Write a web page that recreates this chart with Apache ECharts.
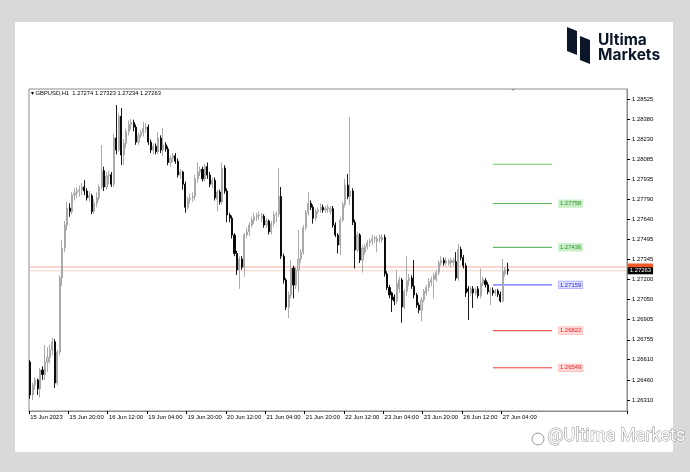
<!DOCTYPE html>
<html><head><meta charset="utf-8">
<script src="https://cdn.jsdelivr.net/npm/echarts@6/dist/echarts.min.js"></script>
<style>
html,body{margin:0;padding:0;background:#d9d9d9;width:690px;height:472px;overflow:hidden;}
#panel{position:absolute;left:15px;top:22px;width:658px;height:430px;background:#fff;}
#chart{position:absolute;left:0;top:0;width:690px;height:472px;}
</style></head><body>
<div id="panel"></div><div id="chart"></div>
<script>
const symbol = 'GBPUSD', period = 'H1';
const xTickLabels = ['15 Jun 2023','15 Jun 20:00','16 Jun 12:00','19 Jun 04:00','19 Jun 20:00','20 Jun 12:00','21 Jun 04:00','21 Jun 20:00','22 Jun 12:00','23 Jun 04:00','23 Jun 20:00','26 Jun 12:00','27 Jun 04:00'];
const barsPerTick = 16;
const yTicks = [1.28525,1.28380,1.28230,1.28085,1.27935,1.27790,1.27640,1.27495,1.27345,1.27200,1.27050,1.26905,1.26755,1.26610,1.26460,1.26310];
const open = [1.26592,1.26349,1.26422,1.26460,1.26394,1.26533,1.26500,1.26592,1.26625,1.26680,
1.26740,1.26437,1.26665,1.27210,1.27430,1.27600,1.27725,1.27700,1.27821,1.27835,
1.27850,1.27860,1.27880,1.27850,1.27800,1.27815,1.27700,1.27760,1.27800,1.27880,
1.28000,1.27880,1.27960,1.27970,1.27900,1.28240,1.28152,1.28400,1.28115,1.28200,
1.28290,1.28340,1.28355,1.28320,1.28210,1.28260,1.28280,1.28310,1.28320,1.28210,
1.28152,1.28180,1.28140,1.28240,1.28152,1.28190,1.28160,1.28060,1.28090,1.28110,
1.28070,1.27968,1.27990,1.27900,1.27730,1.27790,1.27800,1.27810,1.27940,1.27990,
1.28010,1.27940,1.28030,1.27968,1.27900,1.27930,1.27790,1.27843,1.27770,1.28020,
1.27850,1.27674,1.27650,1.27526,1.27390,1.27269,1.27350,1.27290,1.27526,1.27550,
1.27600,1.27637,1.27660,1.27670,1.27650,1.27665,1.27600,1.27630,1.27550,1.27610,
1.27674,1.27680,1.27810,1.27370,1.27195,1.26996,1.27085,1.27283,1.27158,1.27269,
1.27350,1.27400,1.27580,1.27690,1.27760,1.27730,1.27650,1.27700,1.27710,1.27730,
1.27710,1.27720,1.27700,1.27720,1.27600,1.27526,1.27453,1.27637,1.27750,1.27894,
1.27810,1.27850,1.27620,1.27416,1.27526,1.27342,1.27400,1.27440,1.27470,1.27480,
1.27500,1.27480,1.27500,1.27490,1.27510,1.27240,1.27140,1.27100,1.27070,1.27040,
1.27130,1.27195,1.26996,1.27110,1.27190,1.27210,1.27150,1.27085,1.27011,1.26974,
1.27048,1.27100,1.27140,1.27180,1.27200,1.27200,1.27250,1.27320,1.27340,1.27320,
1.27320,1.27320,1.27325,1.27330,1.27210,1.27420,1.27360,1.27300,1.27130,1.27100,
1.27130,1.27100,1.27130,1.27080,1.27170,1.27190,1.27160,1.27100,1.27120,1.27100,
1.27115,1.27090,1.27040,1.27240,1.27274];
const high = [1.26606,1.26440,1.26480,1.26470,1.26548,1.26560,1.26717,1.26700,1.26720,1.26770,
1.26760,1.26680,1.27230,1.27490,1.27630,1.27770,1.27760,1.27840,1.27870,1.27880,
1.27890,1.27910,1.27930,1.27870,1.27850,1.27830,1.27790,1.27840,1.27900,1.28189,
1.28030,1.27990,1.28000,1.27990,1.28270,1.28483,1.28420,1.28461,1.28230,1.28310,
1.28370,1.28380,1.28375,1.28340,1.28280,1.28300,1.28360,1.28350,1.28340,1.28230,
1.28200,1.28200,1.28284,1.28260,1.28314,1.28210,1.28180,1.28110,1.28130,1.28130,
1.28090,1.28010,1.28000,1.27920,1.27810,1.27830,1.27840,1.27970,1.28060,1.28030,
1.28030,1.28050,1.28060,1.27990,1.27950,1.27950,1.27860,1.27860,1.28060,1.28040,
1.27870,1.27690,1.27670,1.27540,1.27410,1.27370,1.27370,1.27540,1.27580,1.27620,
1.27660,1.27690,1.27690,1.27700,1.27690,1.27680,1.27650,1.27640,1.27630,1.27700,
1.27700,1.28020,1.27880,1.27390,1.27210,1.27110,1.27342,1.27300,1.27290,1.27563,
1.27420,1.27600,1.27710,1.27843,1.27780,1.27750,1.27720,1.27730,1.27760,1.27750,
1.27740,1.27750,1.27740,1.27740,1.27620,1.27540,1.27660,1.27770,1.27940,1.27975,
1.28395,1.27870,1.27640,1.27550,1.27540,1.27450,1.27460,1.27490,1.27500,1.27530,
1.27520,1.27520,1.27530,1.27530,1.27530,1.27260,1.27160,1.27110,1.27090,1.27269,
1.27220,1.27210,1.27130,1.27370,1.27240,1.27230,1.27342,1.27100,1.27030,1.27070,
1.27130,1.27160,1.27210,1.27220,1.27250,1.27270,1.27340,1.27370,1.27360,1.27360,
1.27350,1.27360,1.27360,1.27400,1.27460,1.27440,1.27380,1.27320,1.27150,1.27150,
1.27150,1.27140,1.27150,1.27280,1.27220,1.27210,1.27180,1.27140,1.27140,1.27130,
1.27130,1.27110,1.27350,1.27290,1.27323];
const low = [1.26320,1.26312,1.26386,1.26349,1.26330,1.26460,1.26459,1.26520,1.26580,1.26640,
1.26400,1.26420,1.26640,1.27150,1.27400,1.27560,1.27660,1.27680,1.27780,1.27800,
1.27810,1.27820,1.27820,1.27780,1.27770,1.27680,1.27680,1.27730,1.27780,1.27860,
1.27850,1.27860,1.27900,1.27880,1.27880,1.28120,1.28140,1.28042,1.28042,1.28170,
1.28260,1.28300,1.28290,1.28190,1.28190,1.28240,1.28250,1.28280,1.28190,1.28130,
1.28120,1.28120,1.28120,1.28130,1.28110,1.28140,1.28040,1.28030,1.28060,1.28050,
1.27950,1.27940,1.27860,1.27690,1.27710,1.27760,1.27770,1.27780,1.27910,1.27960,
1.27920,1.27920,1.27940,1.27880,1.27870,1.27780,1.27700,1.27750,1.27750,1.27830,
1.27620,1.27620,1.27500,1.27370,1.27232,1.27130,1.27270,1.27220,1.27500,1.27520,
1.27580,1.27610,1.27630,1.27640,1.27620,1.27580,1.27580,1.27530,1.27530,1.27590,
1.27620,1.27660,1.27350,1.27170,1.26974,1.26915,1.27060,1.27060,1.27130,1.27110,
1.27320,1.27380,1.27560,1.27670,1.27710,1.27610,1.27630,1.27680,1.27690,1.27690,
1.27690,1.27690,1.27680,1.27580,1.27510,1.27390,1.27379,1.27620,1.27730,1.27790,
1.27747,1.27600,1.27280,1.27400,1.27320,1.27250,1.27380,1.27420,1.27440,1.27450,
1.27470,1.27400,1.27470,1.27470,1.27220,1.27120,1.27060,1.26960,1.27010,1.27020,
1.27100,1.26880,1.26980,1.27080,1.27150,1.27130,1.27060,1.26990,1.26950,1.26890,
1.27030,1.27080,1.27110,1.27150,1.27060,1.27180,1.27230,1.27300,1.27300,1.27300,
1.27300,1.27290,1.27300,1.27190,1.27190,1.27340,1.27280,1.27070,1.26901,1.27080,
1.26990,1.27080,1.27060,1.27060,1.27150,1.27140,1.27090,1.27011,1.27080,1.27080,
1.27070,1.27030,1.27030,1.27220,1.27234];
const close = [1.26349,1.26422,1.26460,1.26394,1.26533,1.26500,1.26592,1.26625,1.26680,1.26740,
1.26437,1.26665,1.27210,1.27430,1.27600,1.27725,1.27700,1.27821,1.27835,1.27850,
1.27860,1.27880,1.27850,1.27800,1.27815,1.27700,1.27760,1.27800,1.27880,1.28000,
1.27880,1.27960,1.27970,1.27900,1.28240,1.28152,1.28400,1.28115,1.28200,1.28290,
1.28340,1.28355,1.28320,1.28210,1.28260,1.28280,1.28310,1.28320,1.28210,1.28152,
1.28180,1.28140,1.28240,1.28152,1.28190,1.28160,1.28060,1.28090,1.28110,1.28070,
1.27968,1.27990,1.27900,1.27730,1.27790,1.27800,1.27810,1.27940,1.27990,1.28010,
1.27940,1.28030,1.27968,1.27900,1.27930,1.27800,1.27843,1.27770,1.28020,1.27850,
1.27674,1.27650,1.27526,1.27390,1.27269,1.27350,1.27290,1.27526,1.27550,1.27600,
1.27637,1.27660,1.27670,1.27675,1.27665,1.27600,1.27630,1.27550,1.27610,1.27674,
1.27680,1.27810,1.27370,1.27195,1.26996,1.27085,1.27283,1.27158,1.27269,1.27350,
1.27400,1.27580,1.27690,1.27760,1.27730,1.27650,1.27700,1.27710,1.27730,1.27710,
1.27720,1.27730,1.27720,1.27600,1.27526,1.27453,1.27637,1.27750,1.27894,1.27810,
1.27850,1.27620,1.27416,1.27526,1.27342,1.27430,1.27440,1.27470,1.27480,1.27500,
1.27505,1.27500,1.27510,1.27510,1.27240,1.27140,1.27085,1.27050,1.27040,1.27170,
1.27195,1.26996,1.27110,1.27190,1.27210,1.27150,1.27085,1.27011,1.26974,1.27048,
1.27110,1.27140,1.27180,1.27200,1.27230,1.27250,1.27320,1.27340,1.27320,1.27335,
1.27335,1.27340,1.27340,1.27210,1.27420,1.27360,1.27300,1.27100,1.27110,1.27130,
1.27100,1.27120,1.27080,1.27170,1.27200,1.27160,1.27110,1.27120,1.27100,1.27115,
1.27090,1.27040,1.27260,1.27274,1.27263];
const levels = [1.28047,1.27758,1.27436,1.27159,1.26822,1.26549];
const levelLabels = ['','1.27758','1.27436','1.27159','1.26822','1.26549'];
const bidPrice = close[close.length-1];
const askPrice = 1.27291;

// ---- layout / style ----
const totalSlots = 243;
const lineFrom = 188, lineTo = 212;
const levelStyle = [
  {line:'#6ccc6c', bg:'#c6efc6', fg:'#2f8f2f', bd:'#c6efc6'},
  {line:'#55b855', bg:'#c6efc6', fg:'#2f8f2f', bd:'#c6efc6'},
  {line:'#46a646', bg:'#c6efc6', fg:'#2f8f2f', bd:'#c6efc6'},
  {line:'#4a4aff', bg:'#dedeff', fg:'#2a2ae8', bd:'#9c9cff'},
  {line:'#ea3030', bg:'#ffd8d8', fg:'#e02828', bd:'#ffb0b0'},
  {line:'#ea3a3a', bg:'#ffd8d8', fg:'#e02828', bd:'#ffb0b0'}
];
const cats = Array.from({length: totalSlots}, (_, i) => String(i));
const candleData = open.map((o, i) => [o, close[i], low[i], high[i]]);
const n = open.length;
const isTick = (i) => i % barsPerTick === 0 && i / barsPerTick < xTickLabels.length;
const font = 'Liberation Sans, Arial, sans-serif';
const fs = 5.9;

const hSeries = (p, color, from, to, label, z) => ({
  type: 'line', data: [[from, p], [to, p]], symbol: 'none', silent: true, z: z || 3,
  lineStyle: {color: color, width: 1, type: 'solid'}, itemStyle: {color: color},
  endLabel: label ? Object.assign({show: true, fontFamily: font, fontSize: fs}, label) : {show: false}
});

const levelSeries = levels.map((p, k) => {
  const st = levelStyle[k];
  return hSeries(p, st.line, lineFrom, lineTo, levelLabels[k] ? {
    distance: 7, formatter: () => levelLabels[k],
    color: st.fg, backgroundColor: st.bg, borderColor: st.bd, borderWidth: 0.6,
    padding: [1, 1, 0, 1]} : null, 4);
});

const chart = echarts.init(document.getElementById('chart'), null, {renderer: 'canvas'});
chart.setOption({
  animation: false,
  backgroundColor: 'transparent',
  title: {
    text: '\u25BE ' + symbol + ',' + period + '  ' + [open[n-1], high[n-1], low[n-1], close[n-1]].map(v => v.toFixed(5)).join(' '),
    left: 31, top: 90, padding: 0,
    textStyle: {fontSize: 5.8, fontWeight: 'normal', color: '#000', fontFamily: font}
  },
  grid: {left: 29, right: 63, top: 89, bottom: 61, show: true, borderColor: '#8c8c8c', borderWidth: 1, backgroundColor: '#fff'},
  xAxis: {
    type: 'category', data: cats, boundaryGap: true,
    axisLine: {show: true, lineStyle: {color: '#8c8c8c'}},
    axisTick: {show: true, interval: (i) => isTick(i), length: 3, lineStyle: {color: '#000'}},
    axisLabel: {interval: (i) => isTick(i), formatter: (v, i) => xTickLabels[i / barsPerTick] || '',
      align: 'left', fontSize: fs, color: '#000', margin: 3, fontFamily: font},
    splitLine: {show: false}
  },
  yAxis: {
    type: 'value', position: 'right', min: 1.26231, max: 1.28601, scale: true,
    axisLine: {show: true, lineStyle: {color: '#8c8c8c'}},
    axisTick: {show: true, customValues: yTicks, length: 3, lineStyle: {color: '#000'}},
    axisLabel: {customValues: yTicks, formatter: (v) => v.toFixed(5), fontSize: fs, color: '#000', margin: 5, fontFamily: font},
    splitLine: {show: false}
  },
  series: [
    hSeries(askPrice, '#f2b09e', 0, totalSlots - 1, {distance: 2, formatter: () => askPrice.toFixed(5),
      color: '#f05a28', backgroundColor: '#f05a28', padding: [1, 2, 0, 2]}, 1),
    hSeries(bidPrice, '#f7cfc4', 0, totalSlots - 1, {distance: 2, formatter: () => bidPrice.toFixed(5),
      color: '#fff', backgroundColor: '#000', padding: [1, 2, 0, 2]}, 2),
    {
      type: 'candlestick', data: candleData, barWidth: 1.6, z: 5,
      itemStyle: {color: '#cfcfcf', color0: '#000', borderColor: '#a2a2a2', borderColor0: '#000', borderWidth: 0.9}
    },
    ...levelSeries
  ],
  graphic: [
    {type: 'polygon', shape: {points: [[511, 89], [515, 89], [513, 91]]}, style: {fill: '#999'}},
    {type: 'polygon', shape: {points: [[567, 27], [577, 31], [577, 55], [567, 51]]}, style: {fill: '#0b1628'}},
    {type: 'polygon', shape: {points: [[580, 36], [590, 40], [590, 64], [580, 60]]}, style: {fill: '#0b1628'}},
    {type: 'text', left: 598, top: 32, style: {text: 'Ultima', font: 'bold 15.5px Inter, Roboto, sans-serif', fill: '#0b1628'}},
    {type: 'text', left: 598, top: 47, style: {text: 'Markets', font: 'bold 15.5px Inter, Roboto, sans-serif', fill: '#0b1628'}},
    {type: 'circle', shape: {cx: 538, cy: 439, r: 6}, style: {fill: '#fff', stroke: '#9a9a9a', lineWidth: 1}},
    {type: 'text', left: 547, top: 427, style: {text: '@Ultima Markets', font: '18px Roboto, sans-serif', fill: '#fff', stroke: '#8a8a8a', lineWidth: 0.9}}
  ]
});
</script>
</body></html>
